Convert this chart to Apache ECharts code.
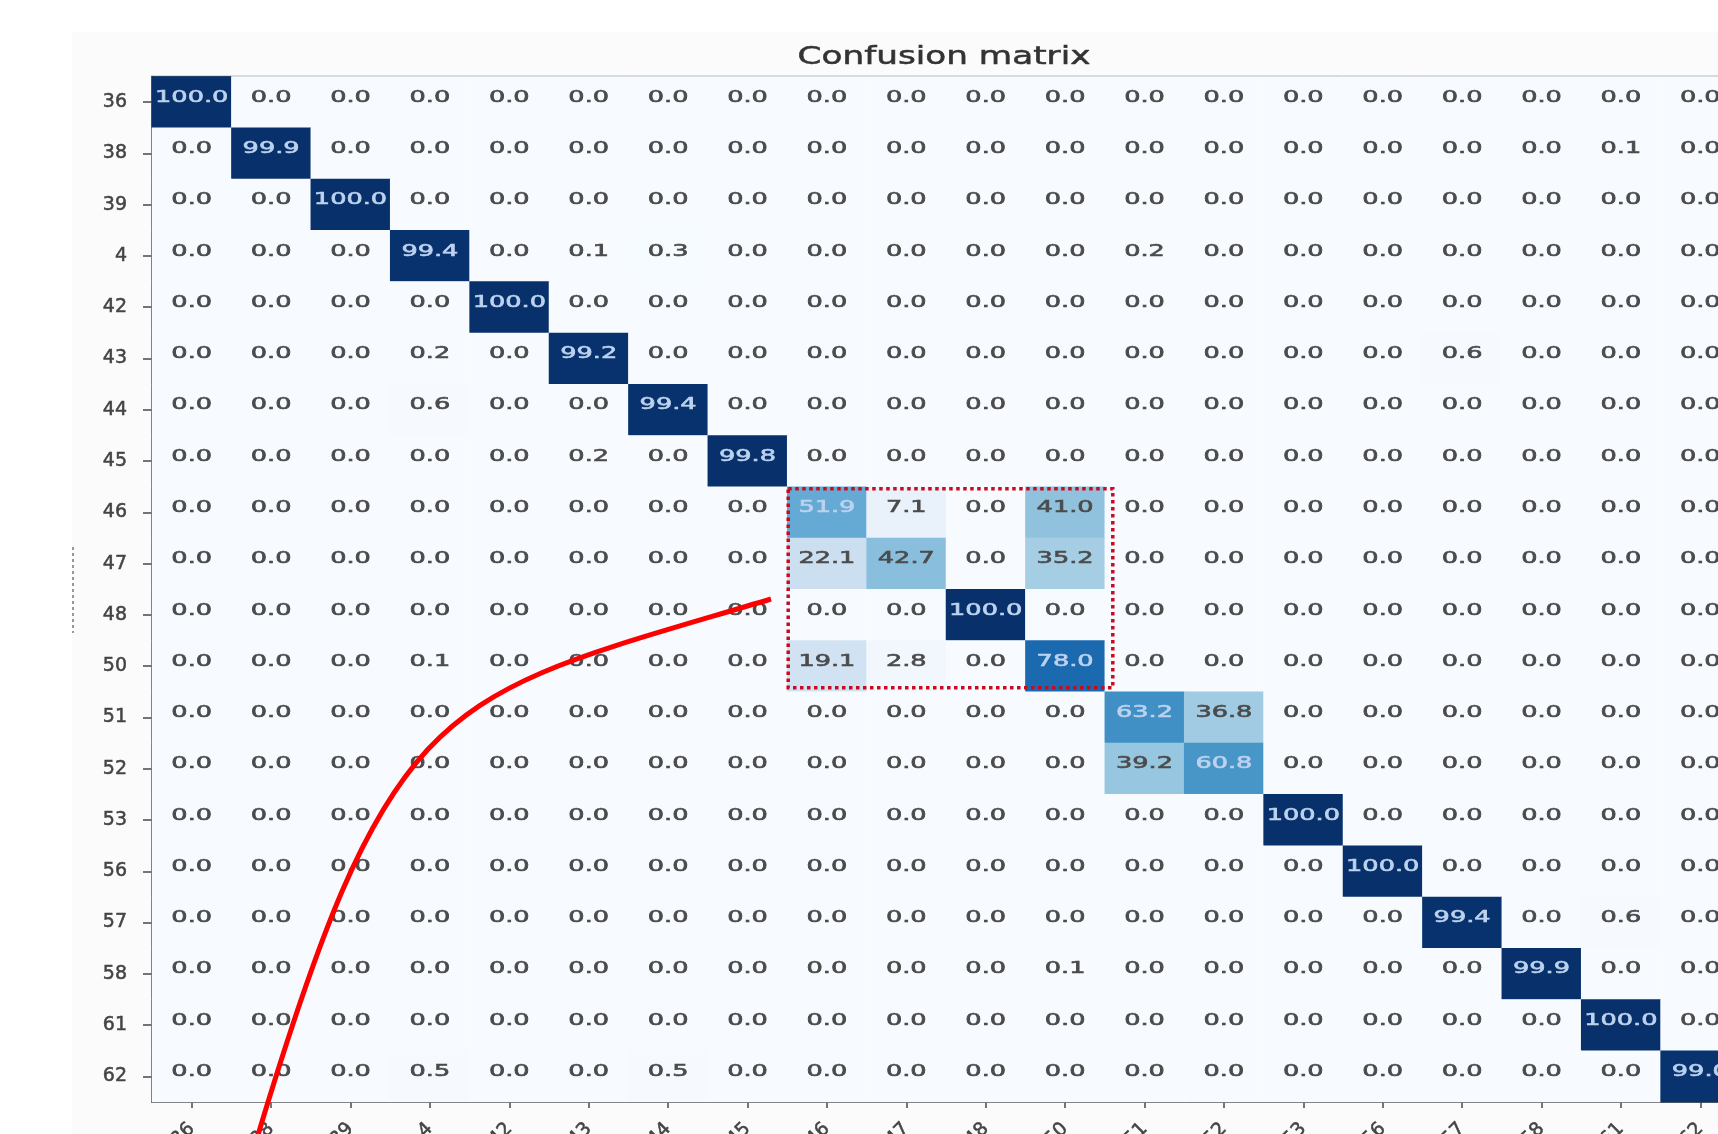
<!DOCTYPE html>
<html>
<head>
<meta charset="utf-8">
<title>Confusion matrix</title>
<script src="https://cdn.jsdelivr.net/npm/echarts@6/dist/echarts.min.js"></script>
<style>
  html, body { margin: 0; padding: 0; background: #ffffff; }
  #chart { width: 1718px; height: 1134px; }
</style>
</head>
<body>
<div id="chart"></div>
<script>
// Class ids, used for both the true-label rows and the predicted-label columns
const classLabels = ['36', '38', '39', '4', '42', '43', '44', '45', '46', '47',
                     '48', '50', '51', '52', '53', '56', '57', '58', '61', '62'];

// Row-normalised rates (%) per true class, one value per predicted class
const row36 = [100.0, 0, 0, 0, 0, 0, 0, 0, 0, 0, 0, 0, 0, 0, 0, 0, 0, 0, 0, 0];
const row38 = [0, 99.9, 0, 0, 0, 0, 0, 0, 0, 0, 0, 0, 0, 0, 0, 0, 0, 0, 0.1, 0];
const row39 = [0, 0, 100.0, 0, 0, 0, 0, 0, 0, 0, 0, 0, 0, 0, 0, 0, 0, 0, 0, 0];
const row4  = [0, 0, 0, 99.4, 0, 0.1, 0.3, 0, 0, 0, 0, 0, 0.2, 0, 0, 0, 0, 0, 0, 0];
const row42 = [0, 0, 0, 0, 100.0, 0, 0, 0, 0, 0, 0, 0, 0, 0, 0, 0, 0, 0, 0, 0];
const row43 = [0, 0, 0, 0.2, 0, 99.2, 0, 0, 0, 0, 0, 0, 0, 0, 0, 0, 0.6, 0, 0, 0];
const row44 = [0, 0, 0, 0.6, 0, 0, 99.4, 0, 0, 0, 0, 0, 0, 0, 0, 0, 0, 0, 0, 0];
const row45 = [0, 0, 0, 0, 0, 0.2, 0, 99.8, 0, 0, 0, 0, 0, 0, 0, 0, 0, 0, 0, 0];
const row46 = [0, 0, 0, 0, 0, 0, 0, 0, 51.9, 7.1, 0, 41.0, 0, 0, 0, 0, 0, 0, 0, 0];
const row47 = [0, 0, 0, 0, 0, 0, 0, 0, 22.1, 42.7, 0, 35.2, 0, 0, 0, 0, 0, 0, 0, 0];
const row48 = [0, 0, 0, 0, 0, 0, 0, 0, 0, 0, 100.0, 0, 0, 0, 0, 0, 0, 0, 0, 0];
const row50 = [0, 0, 0, 0.1, 0, 0, 0, 0, 19.1, 2.8, 0, 78.0, 0, 0, 0, 0, 0, 0, 0, 0];
const row51 = [0, 0, 0, 0, 0, 0, 0, 0, 0, 0, 0, 0, 63.2, 36.8, 0, 0, 0, 0, 0, 0];
const row52 = [0, 0, 0, 0, 0, 0, 0, 0, 0, 0, 0, 0, 39.2, 60.8, 0, 0, 0, 0, 0, 0];
const row53 = [0, 0, 0, 0, 0, 0, 0, 0, 0, 0, 0, 0, 0, 0, 100.0, 0, 0, 0, 0, 0];
const row56 = [0, 0, 0, 0, 0, 0, 0, 0, 0, 0, 0, 0, 0, 0, 0, 100.0, 0, 0, 0, 0];
const row57 = [0, 0, 0, 0, 0, 0, 0, 0, 0, 0, 0, 0, 0, 0, 0, 0, 99.4, 0, 0.6, 0];
const row58 = [0, 0, 0, 0, 0, 0, 0, 0, 0, 0, 0, 0.1, 0, 0, 0, 0, 0, 99.9, 0, 0];
const row61 = [0, 0, 0, 0, 0, 0, 0, 0, 0, 0, 0, 0, 0, 0, 0, 0, 0, 0, 100.0, 0];
const row62 = [0, 0, 0, 0.5, 0, 0, 0.5, 0, 0, 0, 0, 0, 0, 0, 0, 0, 0, 0, 0, 99.0];

const rates = [row36, row38, row39, row4, row42, row43, row44, row45, row46, row47,
               row48, row50, row51, row52, row53, row56, row57, row58, row61, row62];

// Classes bounding the highlighted confusion block
const blockClasses = ['46', '50'];

// [column, row, value] triples for the heatmap and its cell texts
const cells = [];
rates.forEach(function (row, r) {
  row.forEach(function (v, c) { cells.push([c, r, v]); });
});

const FONT = '"DejaVu Sans", "Noto Sans", sans-serif';
const blues = ['#f7fbff', '#deebf7', '#c6dbef', '#9ecae1', '#6baed6',
               '#4292c6', '#2171b5', '#08519c', '#08306b'];

const chart = echarts.init(document.getElementById('chart'), null, { renderer: 'canvas' });

chart.setOption({
  animation: false,
  backgroundColor: '#ffffff',
  grid: {
    left: 152, top: 76.5, width: 1588, height: 1025.5,
    outerBoundsMode: 'none',
    containLabel: false,
    show: true, borderColor: '#7a7a7a', borderWidth: 1.5, backgroundColor: 'transparent'
  },
  xAxis: {
    type: 'category',
    data: classLabels,
    position: 'bottom',
    axisLine: { show: true, lineStyle: { color: '#4a4a4a', width: 1.6 } },
    axisTick: { show: true, alignWithLabel: true, length: 6, lineStyle: { color: '#4a4a4a', width: 1.5 } },
    axisLabel: {
      rotate: 45, fontFamily: FONT, fontSize: 19, color: '#444', margin: 24,
      textBorderColor: '#444', textBorderWidth: 0.5
    },
    splitLine: { show: false }
  },
  yAxis: {
    type: 'category',
    data: classLabels,
    inverse: true,
    axisLine: { show: true, lineStyle: { color: '#4a4a4a', width: 1.6 } },
    axisTick: { show: true, alignWithLabel: true, length: 9, lineStyle: { color: '#4a4a4a', width: 1.5 } },
    axisLabel: {
      fontFamily: FONT, fontSize: 19, color: '#444', margin: 25,
      textBorderColor: '#444', textBorderWidth: 0.5
    },
    splitLine: { show: false }
  },
  visualMap: {
    show: false, min: 0, max: 100, seriesIndex: 0,
    inRange: { color: blues }
  },
  series: [
    {
      type: 'heatmap',
      data: cells,
      itemStyle: { borderWidth: 0 },
      label: { show: false },
      emphasis: { disabled: true }
    },
    {
      // cell values, widened to match the stretched figure
      type: 'custom',
      data: cells,
      silent: true,
      z: 5,
      renderItem: function (params, api) {
        const v = api.value(2);
        const p = api.coord([api.value(0), api.value(1)]);
        const ink = v > 50 ? '#bcd2ee' : '#4b4b4b';
        return {
          type: 'text',
          x: p[0],
          y: p[1] - 4.5,
          scaleX: 1.6,
          style: {
            text: v.toFixed(1),
            fill: ink,
            stroke: ink,
            lineWidth: 0.6,
            font: '16px ' + FONT,
            align: 'center', verticalAlign: 'middle',
            textAlign: 'center', textVerticalAlign: 'middle'
          }
        };
      }
    }
  ]
});

// Annotations: figure panel, title, block outline and the pointer curve
const a = chart.convertToPixel({ gridIndex: 0 }, [blockClasses[0], blockClasses[0]]);
const b = chart.convertToPixel({ gridIndex: 0 }, [blockClasses[1], blockClasses[1]]);
const n = chart.convertToPixel({ gridIndex: 0 }, [classLabels[1], classLabels[1]]);
const o = chart.convertToPixel({ gridIndex: 0 }, [classLabels[0], classLabels[0]]);
const halfW = (n[0] - o[0]) / 2;
const halfH = (n[1] - o[1]) / 2;
const boxX = a[0] - halfW + 1;
const boxY = a[1] - halfH + 2;
const boxW = b[0] + halfW + 8 - boxX;
const boxH = b[1] + halfH - 4 - boxY;

chart.setOption({
  graphic: {
    elements: [
      {
        type: 'rect', id: 'panel', silent: true, z: -100,
        shape: { x: 72, y: 32, width: 1660, height: 1110 },
        style: { fill: '#fbfbfc' }
      },
      {
        type: 'text', id: 'title', silent: true, z: 10,
        x: 944, y: 57, scaleX: 1.37,
        style: {
          text: 'Confusion matrix', font: '25px ' + FONT, fill: '#333',
          stroke: '#333', lineWidth: 0.5,
          align: 'center', verticalAlign: 'middle',
          textAlign: 'center', textVerticalAlign: 'middle'
        }
      },
      {
        type: 'line', id: 'ylabelTrace', silent: true, z: 10,
        shape: { x1: 73, y1: 547, x2: 73, y2: 633 },
        style: { stroke: '#555', lineWidth: 1.2, lineDash: [3, 3] }
      },
      {
        type: 'rect', id: 'block', silent: true, z: 20,
        shape: { x: boxX, y: boxY, width: boxW, height: boxH },
        style: { fill: null, stroke: '#cc0a1e', lineWidth: 3.5, lineDash: [3.5, 3.5] }
      },
      {
        type: 'bezierCurve', id: 'pointer', silent: true, z: 21,
        shape: { x1: 771, y1: 599, cpx1: 441, cpy1: 698, cpx2: 393, cpy2: 684, x2: 255, y2: 1145 },
        style: { fill: null, stroke: '#ff0000', lineWidth: 5 }
      }
    ]
  }
});
</script>
</body>
</html>
